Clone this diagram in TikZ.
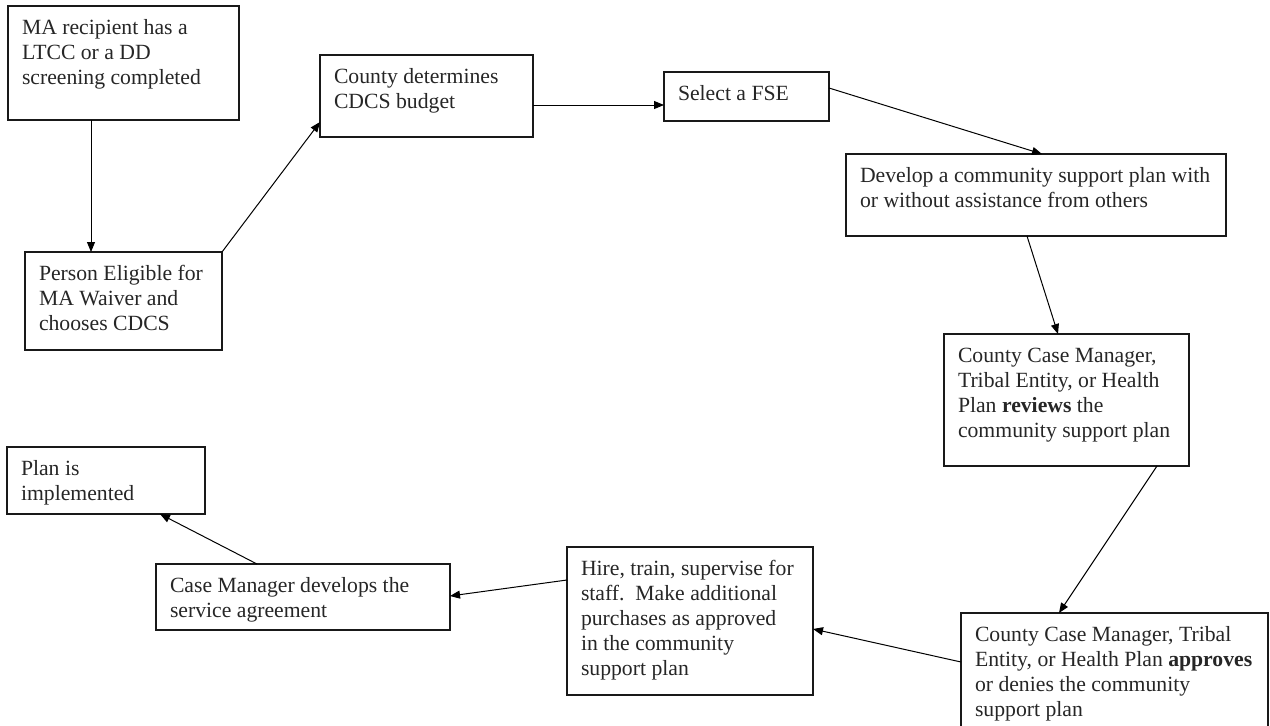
\documentclass[tikz,border=0pt]{standalone}
\usepackage{fontspec}
\setmainfont{Liberation Serif}
\usetikzlibrary{arrows.meta}
\newcommand\firstln{\rule{0pt}{19.5pt}}
\begin{document}
\begin{tikzpicture}[x=1pt,y=-1pt,
  stepbox/.style={draw=black!90, line width=1.1pt, inner sep=0pt, outer sep=0pt, anchor=north west},
  txt/.style={anchor=north west, inner sep=0pt, outer sep=0pt, align=left, text=black!85,
    font=\fontsize{21.7}{25}\selectfont},
  conn/.style={draw=black, line width=1pt, -{Triangle[length=10pt,width=8pt]}}]
\useasboundingbox (0,0) rectangle (1270,726);
% boxes
\node[stepbox, minimum width=231pt, minimum height=114pt] (A) at (8,6) {};
\node[stepbox, minimum width=197pt, minimum height=98pt] (B) at (25,252) {};
\node[stepbox, minimum width=213pt, minimum height=82pt] (C) at (320,55) {};
\node[stepbox, minimum width=165pt, minimum height=49pt] (E) at (664,72) {};
\node[stepbox, minimum width=380pt, minimum height=82pt] (D) at (846,154) {};
\node[stepbox, minimum width=245pt, minimum height=132pt] (F) at (944,334) {};
\node[stepbox, minimum width=307pt, minimum height=150pt] (G) at (961,613) {};
\node[stepbox, minimum width=246pt, minimum height=148pt] (H) at (567,547) {};
\node[stepbox, minimum width=294pt, minimum height=66pt] (I) at (156,564) {};
\node[stepbox, minimum width=198pt, minimum height=67pt] (J) at (7,447) {};
% texts
\node[txt] (tA) at ([shift={(14pt,-8.5pt)}]A.north west) {\firstln MA recipient has a\\LTCC or a DD\\screening completed};
\node[txt] (tB) at ([shift={(14pt,-8.5pt)}]B.north west) {\firstln Person Eligible for\\MA Waiver and\\chooses CDCS};
\node[txt] (tC) at ([shift={(14pt,-8.5pt)}]C.north west) {\firstln County determines\\CDCS budget};
\node[txt] (tE) at ([shift={(14pt,-8.5pt)}]E.north west) {\firstln Select a FSE};
\node[txt] (tD) at ([shift={(14pt,-8.5pt)}]D.north west) {\firstln Develop a community support plan with\\or without assistance from others};
\node[txt] (tF) at ([shift={(14pt,-8.5pt)}]F.north west) {\firstln County Case Manager,\\Tribal Entity, or Health\\Plan \textbf{reviews} the\\community support plan};
\node[txt] (tG) at ([shift={(14pt,-8.5pt)}]G.north west) {\firstln County Case Manager, Tribal\\Entity, or Health Plan \textbf{approves}\\or denies the community\\support plan};
\node[txt] (tH) at ([shift={(14pt,-8.5pt)}]H.north west) {\firstln Hire, train, supervise for\\staff.\ \ Make additional\\purchases as approved\\in the community\\support plan};
\node[txt] (tI) at ([shift={(14pt,-8.5pt)}]I.north west) {\firstln Case Manager develops the\\service agreement};
\node[txt] (tJ) at ([shift={(14pt,-8.5pt)}]J.north west) {\firstln Plan is\\implemented};
% connectors
\draw[conn] ([xshift=83pt]A.south west) -- ([xshift=66pt]B.north west);
\draw[conn] (B.north east) -- ([yshift=15pt]C.south west);
\draw[conn] ([yshift=-50pt]C.north east) -- ([yshift=-33pt]E.north west);
\draw[conn] ([yshift=-16pt]E.north east) -- ([xshift=196pt]D.north west);
\draw[conn] ([xshift=181pt]D.south west) -- ([xshift=114pt]F.north west);
\draw[conn] ([xshift=213pt]F.south west) -- ([xshift=98pt]G.north west);
\draw[conn] ([yshift=-49pt]G.north west) -- ([yshift=-82pt]H.north east);
\draw[conn] ([yshift=-33pt]H.north west) -- ([yshift=-32pt]I.north east);
\draw[conn] ([xshift=101pt]I.north west) -- ([xshift=153pt]J.south west);
\end{tikzpicture}
\end{document}
